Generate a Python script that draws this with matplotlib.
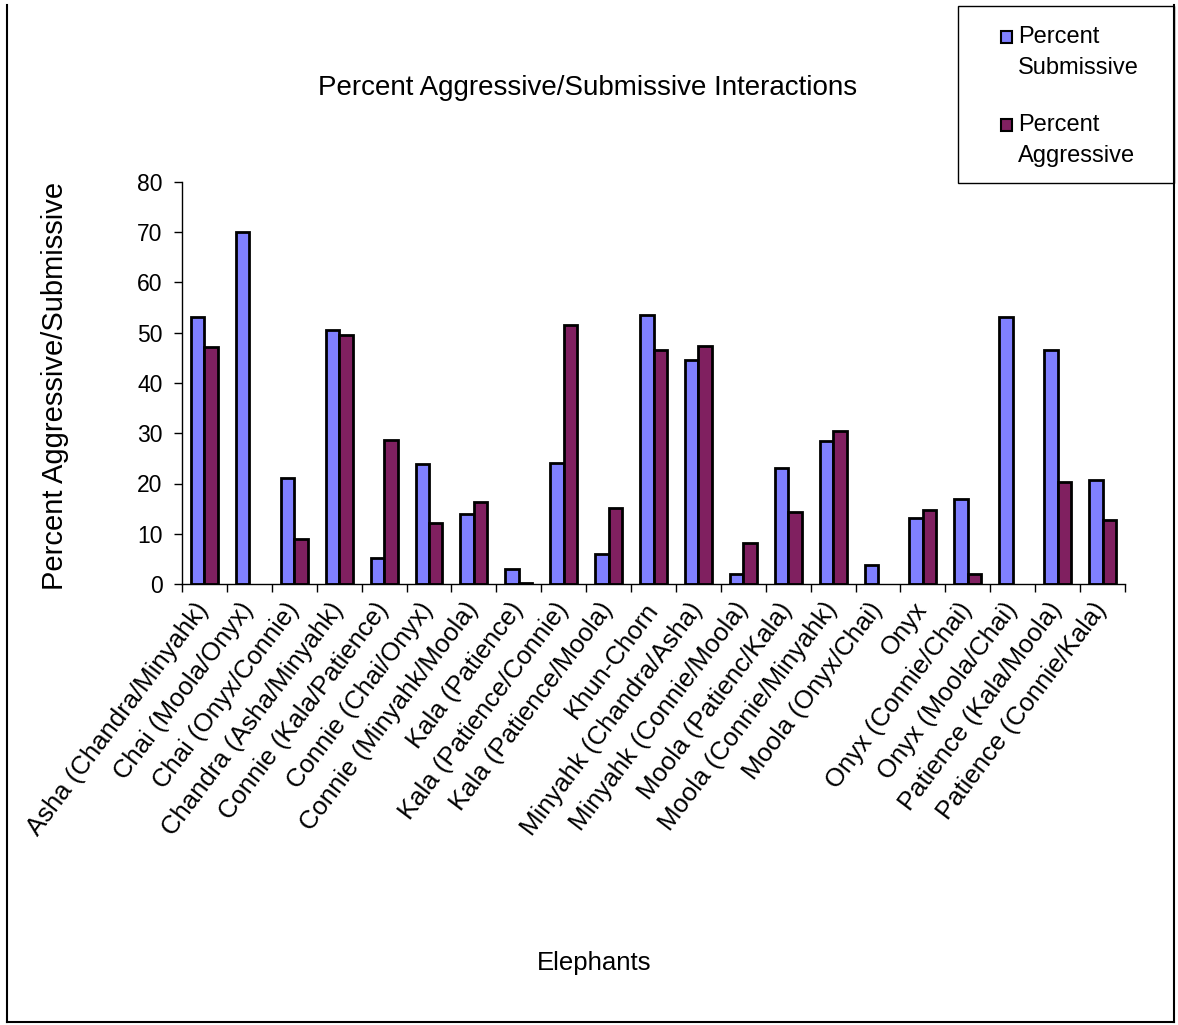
import numpy as np
import matplotlib
matplotlib.use("Agg")
import matplotlib.pyplot as plt
from matplotlib.patches import Rectangle
from matplotlib.lines import Line2D

plt.rcParams['font.family'] = ['Liberation Sans', 'DejaVu Sans']

elephants = [
    "Asha (Chandra/Minyahk)", "Chai (Moola/Onyx)", "Chai (Onyx/Connie)",
    "Chandra (Asha/Minyahk)", "Connie (Kala/Patience)", "Connie (Chai/Onyx)",
    "Connie (Minyahk/Moola)", "Kala (Patience)", "Kala (Patience/Connie)",
    "Kala (Patience/Moola)", "Khun-Chorn", "Minyahk (Chandra/Asha)",
    "Minyahk (Connie/Moola)", "Moola (Patienc/Kala)", "Moola (Connie/Minyahk)",
    "Moola (Onyx/Chai)", "Onyx", "Onyx (Connie/Chai)", "Onyx (Moola/Chai)",
    "Patience (Kala/Moola)", "Patience (Connie/Kala)",
]
pct_submissive = [53.2, 70.1, 21.0, 50.6, 5.1, 23.9, 14.0, 3.0, 24.1, 6.0,
                  53.6, 44.6, 1.9, 23.1, 28.5, 3.8, 13.2, 17.0, 53.2, 46.6, 20.6]
pct_aggressive = [47.1, np.nan, 9.0, 49.6, 28.7, 12.2, 16.3, 0.2, 51.6, 15.2,
                  46.6, 47.3, 8.1, 14.3, 30.5, np.nan, 14.8, 1.9, np.nan, 20.3, 12.7]
series_names = ["Percent\nSubmissive", "Percent\nAggressive"]
series_colors = ["#8080FF", "#802060"]

W, H = 1178, 1025
fig = plt.figure(figsize=(W / 100, H / 100), dpi=100)
ax = fig.add_axes([182 / W, 1 - 584 / H, (1125 - 182) / W, (584 - 182) / H])

x = np.arange(len(elephants))
bw = 0.3
ax.bar(x - bw / 2, pct_submissive, bw, color=series_colors[0],
       edgecolor="black", linewidth=2.0)
ax.bar(x + bw / 2, pct_aggressive, bw, color=series_colors[1],
       edgecolor="black", linewidth=2.0)

ax.set_xlim(-0.5, len(elephants) - 0.5)
ax.set_ylim(0, 80)
ax.set_yticks(np.arange(0, 81, 10))
# label anchors sit slightly left of each group centre (invisible major ticks)
ax.set_xticks(x - 0.22)
ax.set_xticks(np.arange(-0.5, len(elephants), 1.0), minor=True)
ax.set_xticklabels(elephants, rotation=53, ha="right", va="top",
                   rotation_mode="anchor", fontsize=18.5)
ax.tick_params(axis="x", which="major", length=0, pad=10)
ax.tick_params(axis="x", which="minor", length=6, width=1, direction="out")
ax.tick_params(axis="y", length=6, width=1, direction="out", labelsize=16.5, pad=8)
for s in ("top", "right"):
    ax.spines[s].set_visible(False)
for s in ("left", "bottom"):
    ax.spines[s].set_linewidth(1.0)

fig.text(588 / W, 1 - 88 / H, "Percent Aggressive/Submissive Interactions",
         ha="center", va="center", fontsize=20)
fig.text(55 / W, 1 - 386 / H, "Percent Aggressive/Submissive",
         ha="center", va="center", rotation=90, fontsize=21)
fig.text(594 / W, 1 - 963 / H, "Elephants", ha="center", va="center", fontsize=18.5)

# legend box
fig.add_artist(Rectangle((958 / W, 1 - 183 / H), (1174 - 958) / W, (183 - 6) / H,
                         transform=fig.transFigure, facecolor="white",
                         edgecolor="black", linewidth=1.0))
entry_y = [37, 125]
for name, col, yy in zip(series_names, series_colors, entry_y):
    fig.add_artist(Rectangle((1001 / W, 1 - (yy + 6) / H), 11 / W, 12 / H,
                             transform=fig.transFigure, facecolor=col,
                             edgecolor="black", linewidth=1.5))
    first, second = name.split("\n")
    fig.text(1018 / W, 1 - yy / H, first, ha="left", va="center", fontsize=17)
    fig.text(1018 / W, 1 - (yy + 31) / H, second, ha="left", va="center", fontsize=17)

# outer frame
for xs, ys in (([7, 7], [5, 1022]), ([1174, 1174], [5, 1022]), ([7, 1174], [1022, 1022])):
    fig.add_artist(Line2D([v / W for v in xs], [1 - v / H for v in ys],
                          transform=fig.transFigure, color="black", linewidth=1.5))

fig.savefig("out.png", dpi=100)
